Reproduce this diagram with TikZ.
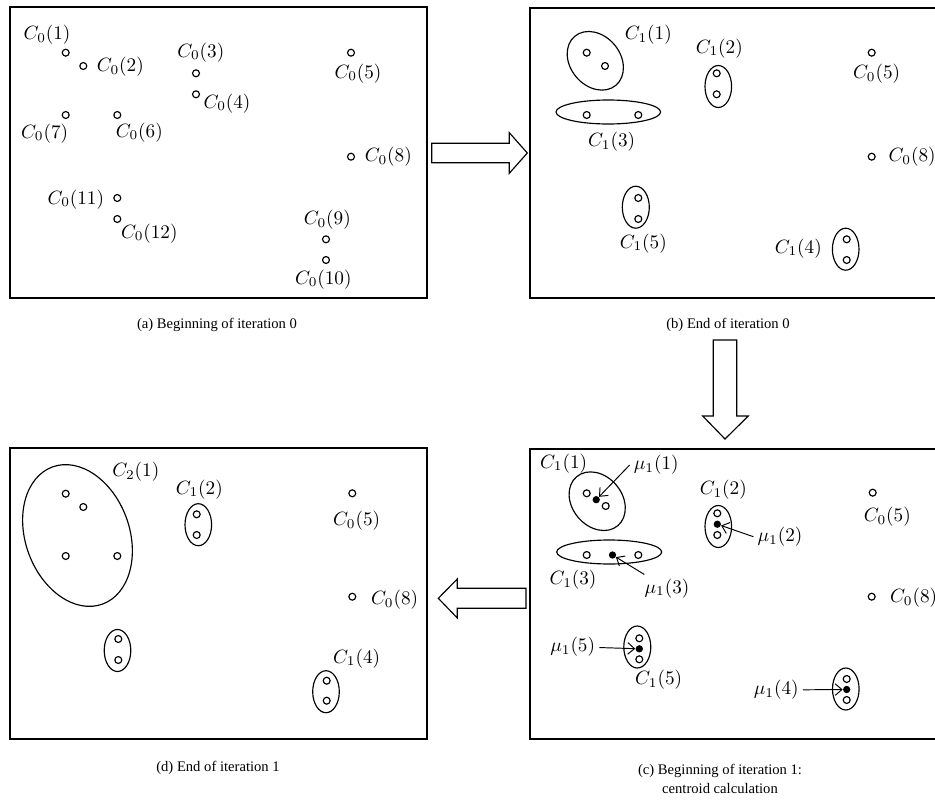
\documentclass[tikz,border=0pt]{standalone}
\usepackage{amsmath}
\usepackage{fontspec}
\setmainfont{Liberation Serif}
\usepackage{tikz}
\usetikzlibrary{shapes}
\usetikzlibrary{calc}
\usetikzlibrary{arrows.meta}

\begin{document}
\begin{tikzpicture}[x=0.52pt,y=-0.52pt]
        \tikzstyle{pt} = [circle, minimum width=3.6pt, draw, inner sep=0pt, fill=white, line width=0.6pt]
        \tikzstyle{cent} = [circle, minimum width=3.8pt, inner sep=0pt, fill=black]
        \tikzstyle{lbl} = [inner sep=2pt]
        \tikzstyle{frame} = [line width=0.8pt]
        \tikzstyle{clus} = [line width=0.6pt]
        \tikzstyle{bigarrow} = [line width=0.6pt, line join=miter]
        \tikzstyle{ptr} = [-{Straight Barb[length=3.5pt,width=6pt]}, line width=0.5pt]
        \tikzstyle{captext} = [font=\fontsize{7.6}{10}\selectfont, align=center]

        \useasboundingbox (0,0) rectangle (935,805);
        \clip (0,0) rectangle (935,805);

        % (a) beginning of iteration 0
        \draw[frame] (10,7) rectangle (427,298);
        \foreach \i/\x/\y in {1/65.7/52.7, 2/83.3/66, 3/196/73.3, 4/196/94.3, 5/351/52.7, 6/117.3/115,
                7/65.7/115, 8/351/156.7, 9/326/239.3, 10/326/260, 11/117.3/198, 12/117.3/219}
                \node[pt] (a\i) at (\x,\y) {};
        \foreach \i/\x/\y in {1/47/35, 2/120.3/66.7, 3/200.8/52.3, 4/227/103.3, 5/358/73.3, 6/139.3/132.3,
                7/44.7/133.3, 8/388.3/157, 9/327.3/220, 10/323.3/279.3, 11/75.8/199.3, 12/149.3/233.3}
                \node[lbl] (la\i) at (\x,\y) {$C_0(\i)$};
        \node[captext] (capa) at (217,325) {(a) Beginning of iteration 0};

        % (b) end of iteration 0
        \draw[frame] (530,8) rectangle (950,298);
        \draw[clus, rotate around={40:(595.3,60.8)}] (595.3,60.8) ellipse [x radius=25, y radius=32];
        \draw[clus] (718.3,86.5) ellipse [x radius=13.3, y radius=21];
        \draw[clus] (608.3,112) ellipse [x radius=52.3, y radius=12];
        \draw[clus] (635.8,207.2) ellipse [x radius=13.5, y radius=21];
        \draw[clus] (845.7,249.2) ellipse [x radius=13.3, y radius=21];
        \foreach \i/\x/\y in {1/586.7/52.7, 2/605/66, 3/716.7/73.3, 4/716.7/94.3, 5/871.7/52.7, 6/638.3/115,
                7/586.7/115, 8/871.7/156.7, 9/846.7/239.3, 10/846.7/260, 11/638.3/198, 12/638.3/219}
                \node[pt] (b\i) at (\x,\y) {};
        \foreach \n/\x/\y/\t in {1/648.3/35/{C_1(1)}, 2/719.3/48.3/{C_1(2)}, 3/611.7/141.7/{C_1(3)},
                4/798.3/248.3/{C_1(4)}, 5/643.3/243.3/{C_1(5)}, 6/876.7/74/{C_0(5)}}
                \node[lbl] (lb\n) at (\x,\y) {$\t$};
        \node[lbl, anchor=west] (lb7) at (884.5,156.7) {$C_0(8)$};
        \node[captext] (capb) at (728,325) {(b) End of iteration 0};

        % block arrows between the panels
        \draw[bigarrow] (431.7,143.3) -- (509.3,143.3) -- (509.3,132.7) -- (527.3,153) -- (509.3,173.3)
                -- (509.3,162.7) -- (431.7,162.7) -- cycle;
        \draw[bigarrow] (713.3,340) -- (736.7,340) -- (736.7,416) -- (748.3,416) -- (725,439)
                -- (702.7,416) -- (713.3,416) -- cycle;
        \draw[bigarrow] (526,588.3) -- (457.3,588.3) -- (457.3,579) -- (438.3,598.3) -- (457.3,618)
                -- (457.3,608.3) -- (526,608.3) -- cycle;

        % (c) beginning of iteration 1
        \begin{scope}[shift={(0,441)}]
                \draw[frame] (530,8) rectangle (950,298);
                \draw[clus, rotate around={40:(597.2,60.2)}] (597.2,60.2) ellipse [x radius=25, y radius=32];
                \draw[clus] (718.3,85.5) ellipse [x radius=13.3, y radius=21];
                \draw[clus] (609.2,111) ellipse [x radius=52.5, y radius=12];
                \draw[clus] (637.3,206) ellipse [x radius=13.5, y radius=21];
                \draw[clus] (845.8,248) ellipse [x radius=13.3, y radius=21];
                \foreach \i/\x/\y in {1/586.7/52.3, 2/605.7/65, 3/717.3/72.3, 4/717.3/94, 5/872.7/51.7, 6/638.3/114,
                        7/586.7/114, 8/871.7/155.7, 9/846.7/238, 10/846.7/259, 11/639.3/197.3, 12/639.3/218.3}
                        \node[pt] (c\i) at (\x,\y) {};
                \foreach \n/\x/\y in {1/596.2/58.7, 2/717.3/83.2, 3/612.5/114, 4/846.7/248.5, 5/639.3/207.8}
                        \node[cent] (cm\n) at (\x,\y) {};
                \foreach \n/\x/\y/\t in {1/563.7/22.3/{C_1(1)}, 2/723.3/49/{C_1(2)}, 3/573/139/{C_1(3)},
                        5/658.7/239/{C_1(5)}, 6/887.3/75.7/{C_0(5)}}
                        \node[lbl] (lc\n) at (\x,\y) {$\t$};
                \node[lbl, anchor=west] (lc7) at (886,157) {$C_0(8)$};
                \foreach \n/\x/\y in {1/656.3/24, 2/780/95.7, 3/667/147.3, 4/776.3/249, 5/572.7/205.7}
                        \node[lbl] (cmu\n) at (\x,\y) {$\mu_1(\n)$};
                \draw[ptr] (cmu1.west) -- (cm1);
                \draw[ptr] (cmu2.west) -- (cm2);
                \draw[ptr] (cmu3) -- (cm3);
                \draw[ptr] (cmu4) -- (cm4);
                \draw[ptr] (cmu5) -- (cm5);
        \end{scope}
        \node[captext] (capc) at (720,779) {(c) Beginning of iteration 1:\\centroid calculation};

        % (d) end of iteration 1
        \begin{scope}[shift={(0,441)}]
                \draw[frame] (10,7) rectangle (427,298);
                \draw[clus, rotate around={20:(77.5,94.5)}] (77.5,94.5) ellipse [x radius=52, y radius=73];
                \draw[clus] (198.3,83.7) ellipse [x radius=13.3, y radius=21];
                \draw[clus] (117.5,209.5) ellipse [x radius=13.3, y radius=21];
                \draw[clus] (326,250.7) ellipse [x radius=13.3, y radius=21];
                \foreach \i/\x/\y in {1/65.7/52.7, 2/83.3/66, 3/196.7/73.3, 4/196.7/94, 5/352.3/52.3, 6/117.3/115,
                        7/65.7/115, 8/352.3/155.7, 9/326.7/239.7, 10/326.7/259.7, 11/118.3/198, 12/118.3/219}
                        \node[pt] (d\i) at (\x,\y) {};
                \foreach \n/\x/\y/\t in {1/135.8/30.7/{C_2(1)}, 2/199.3/48.3/{C_1(2)}, 4/356.7/217.3/{C_1(4)},
                        6/356.7/79.7/{C_0(5)}}
                        \node[lbl] (ld\n) at (\x,\y) {$\t$};
                \node[lbl, anchor=west] (ld7) at (367,159) {$C_0(8)$};
        \end{scope}
        \node[captext] (capd) at (218,768) {(d) End of iteration 1};
\end{tikzpicture}
\end{document}
